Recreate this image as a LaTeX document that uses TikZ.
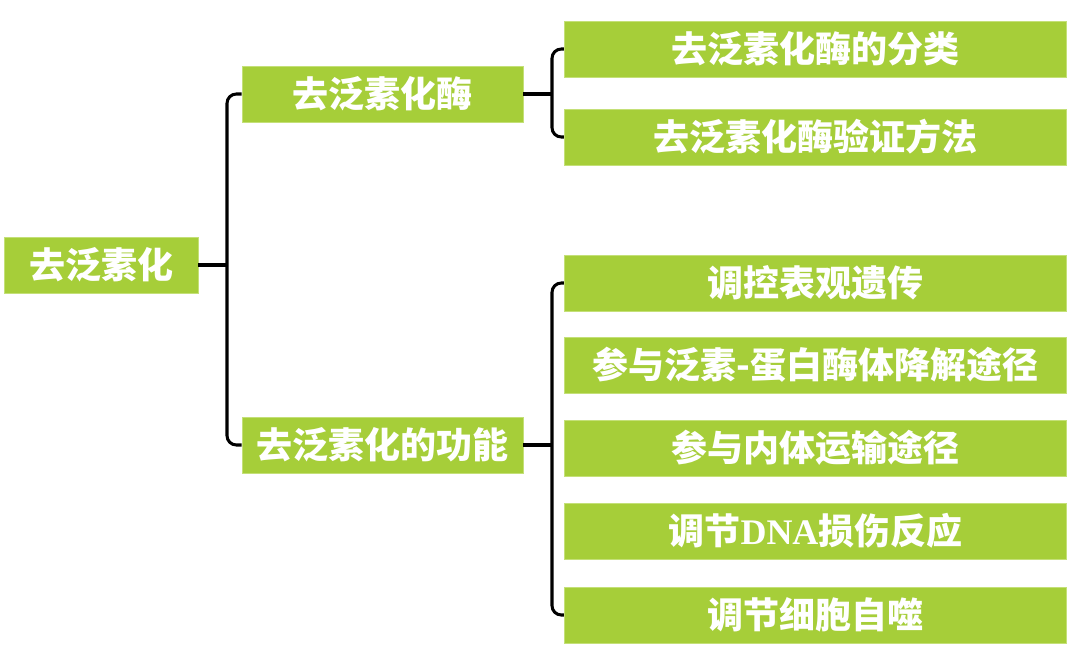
\documentclass[tikz,border=0pt]{standalone}
\usepackage{fontspec}
\newfontfamily\cjk{Noto Sans CJK SC}
\newfontfamily\latinserif{Liberation Serif}
\definecolor{leafgreen}{RGB}{166,206,57}
\definecolor{leafedge}{RGB}{196,224,120}

\tikzset{every picture/.style={line width=0.75pt}}
\tikzset{
  box/.style={draw=leafedge, line width=0.6pt, fill=leafgreen, text=white,
    inner sep=0pt, minimum height=42pt, font=\cjk\bfseries\fontsize{27}{32}\selectfont},
  rootbox/.style={box, minimum width=145.5pt},
  midbox/.style={box, minimum width=210.75pt},
  leafbox/.style={box, minimum width=377pt},
  conn/.style={draw=black, line width=2.3pt, rounded corners=7pt}
}

\begin{document}
\begin{tikzpicture}[x=0.75pt,y=0.75pt,yscale=-1,xscale=1]
    \useasboundingbox (0,0) rectangle (1080,652);

    %Root
    \node [rootbox] (root) at (101,265) {去泛素化};
    %Middle level
    \node [midbox] (enz) at (382.5,94) {去泛素化酶};
    \node [midbox] (func) at (382.5,445) {去泛素化的功能};
    %Leaves of enz
    \node [leafbox] (cls) at (815.5,49) {去泛素化酶的分类};
    \node [leafbox] (vrf) at (815.5,137) {去泛素化酶验证方法};
    %Leaves of func
    \node [leafbox] (epi) at (815.5,283) {调控表观遗传};
    \node [leafbox] (ups) at (815.5,365) {参与泛素-蛋白酶体降解途径};
    \node [leafbox] (endo) at (815.5,448) {参与内体运输途径};
    \node [leafbox] (dna) at (815.5,531) {调节{\latinserif\bfseries DNA}损伤反应};
    \node [leafbox] (auto) at (815.5,615) {调节细胞自噬};

    %Junctions
    \coordinate (jroot) at (227,265);
    \coordinate (jenz) at (552,94);
    \coordinate (jfunc) at (552,445);

    %Connectors
    \draw [conn] (root.east) -- (jroot);
    \draw [conn] (enz.west) -| (jroot) |- (func.west);
    \draw [conn] (enz.east) -- (jenz);
    \draw [conn] (cls.west) -| (jenz) |- (vrf.west);
    \draw [conn] (func.east) -- (jfunc);
    \draw [conn] (epi.west) -| (jfunc) |- (auto.west);

\end{tikzpicture}
\end{document}
